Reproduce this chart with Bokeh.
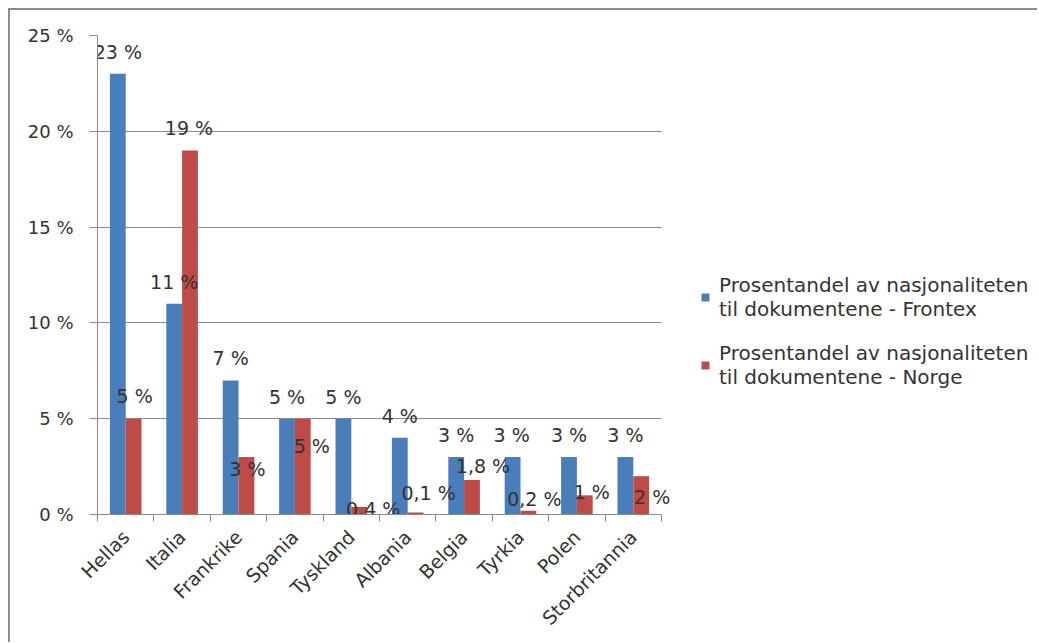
import numpy as np
from bokeh.plotting import figure
from bokeh.models import ColumnDataSource, FixedTicker, Legend, LegendItem, Range1d
from bokeh.embed import file_html
from bokeh.resources import INLINE
from bokeh.core.properties import value

# ---------------- data ----------------
categories = ["Hellas", "Italia", "Frankrike", "Spania", "Tyskland",
              "Albania", "Belgia", "Tyrkia", "Polen", "Storbritannia"]
frontex = [23, 11, 7, 5, 5, 4, 3, 3, 3, 3]
norge = [5, 19, 3, 5, 0.4, 0.1, 1.8, 0.2, 1, 2]
series_names = ["Prosentandel av nasjonaliteten\ntil dokumentene - Frontex",
                "Prosentandel av nasjonaliteten\ntil dokumentene - Norge"]
y_ticks = [0, 5, 10, 15, 20, 25]
y_tick_labels = ["0 %", "5 %", "10 %", "15 %", "20 %", "25 %"]

# label placement (screen px, style only)
frontex_label_dx = [0, 0, 0, 0, 0, 0, 0, -1, 0, 0]
frontex_label_dy = [-22] * 10
norge_label_dx = [1, -1, 1, 9, 14, 13, 11, 6, 7, 11]
norge_label_dy = [-23, -22, 12, 27, 2, -20, -14, -12, -3, 21]

# ---------------- style / layout ----------------
FONT = "DejaVu Sans"
BLUE = "#4A7EBB"
RED = "#BE4B48"
GRID = "#8C8C8C"
TXT = "#333333"
W, H = 1029, 634
BORDER_L, BORDER_T, BORDER_B = 87, 25, 130
PLOT_PX = 564          # width of the bar area in pixels


def pct(v):
    return f"{v:g}".replace(".", ",") + " %"


n = len(categories)
centers = np.arange(n) + 0.5
bw = 0.28
frame_px = W - BORDER_L
x_end = n * frame_px / PLOT_PX   # frame continues to the right to host the legend

src_f = ColumnDataSource(dict(x=centers - bw / 2, top=frontex,
                              lab=[pct(v) for v in frontex],
                              dx=frontex_label_dx, dy=frontex_label_dy))
src_n = ColumnDataSource(dict(x=centers + bw / 2, top=norge,
                              lab=[pct(v) for v in norge],
                              dx=norge_label_dx, dy=norge_label_dy))

p = figure(width=W, height=H, x_range=Range1d(0, x_end), y_range=Range1d(0, 25),
           output_backend="svg", toolbar_location=None,
           min_border_left=BORDER_L, min_border_right=0, min_border_top=BORDER_T,
           min_border_bottom=BORDER_B)
p.styles = {"margin-left": "8px", "margin-top": "8px",
            "border-left": "2px solid #8c8c8c", "border-top": "2px solid #8c8c8c"}
p.outline_line_color = None
p.background_fill_color = "white"
p.border_fill_color = "white"

rb = p.vbar(x="x", top="top", width=bw, source=src_f, fill_color=BLUE, line_color=None)
rr = p.vbar(x="x", top="top", width=bw, source=src_n, fill_color=RED, line_color=None)

for src in (src_f, src_n):
    p.text(x="x", y="top", text="lab", x_offset="dx", y_offset="dy", source=src,
           text_font=value(FONT), text_font_size="19px", text_color=TXT,
           text_align="center", text_baseline="middle")

# x axis: labels at category centres, ticks between categories
xa = p.xaxis[0]
xa.bounds = (0, n)
xa.ticker = FixedTicker(ticks=list(centers), minor_ticks=list(range(n + 1)))
xa.major_label_overrides = {float(c): cat for c, cat in zip(centers, categories)}
xa.major_label_orientation = np.pi / 4
xa.major_tick_line_color = None
xa.major_tick_out = 0
xa.major_tick_in = 0
xa.minor_tick_out = 7
xa.minor_tick_in = 0
xa.minor_tick_line_color = GRID
xa.axis_line_color = GRID
xa.major_label_text_font = FONT
xa.major_label_text_font_size = "19px"
xa.major_label_text_color = TXT
xa.major_label_standoff = 12

ya = p.yaxis[0]
ya.ticker = FixedTicker(ticks=y_ticks)
ya.major_label_overrides = {t: s for t, s in zip(y_ticks, y_tick_labels)}
ya.major_tick_out = 8
ya.major_tick_in = 0
ya.major_tick_line_color = GRID
ya.minor_tick_line_color = None
ya.axis_line_color = GRID
ya.major_label_text_font = FONT
ya.major_label_text_font_size = "18px"
ya.major_label_text_color = TXT
ya.major_label_standoff = 16

p.xgrid.visible = False
yg = p.ygrid[0]
yg.grid_line_color = GRID
yg.grid_line_width = 1
yg.cross_bounds = (0, n)   # grid lines only across the bar area

legend = Legend(items=[LegendItem(label=series_names[0], renderers=[rb]),
                       LegendItem(label=series_names[1], renderers=[rr])],
                location=(603, 125), orientation="vertical",
                label_text_font=FONT, label_text_font_size="20px",
                label_text_color=TXT, label_text_line_height=1.45,
                glyph_width=10, glyph_height=10, label_standoff=9,
                spacing=20, padding=0, margin=0,
                border_line_color=None, background_fill_alpha=0)
p.add_layout(legend)

open("out.html", "w").write(file_html(p, INLINE))
